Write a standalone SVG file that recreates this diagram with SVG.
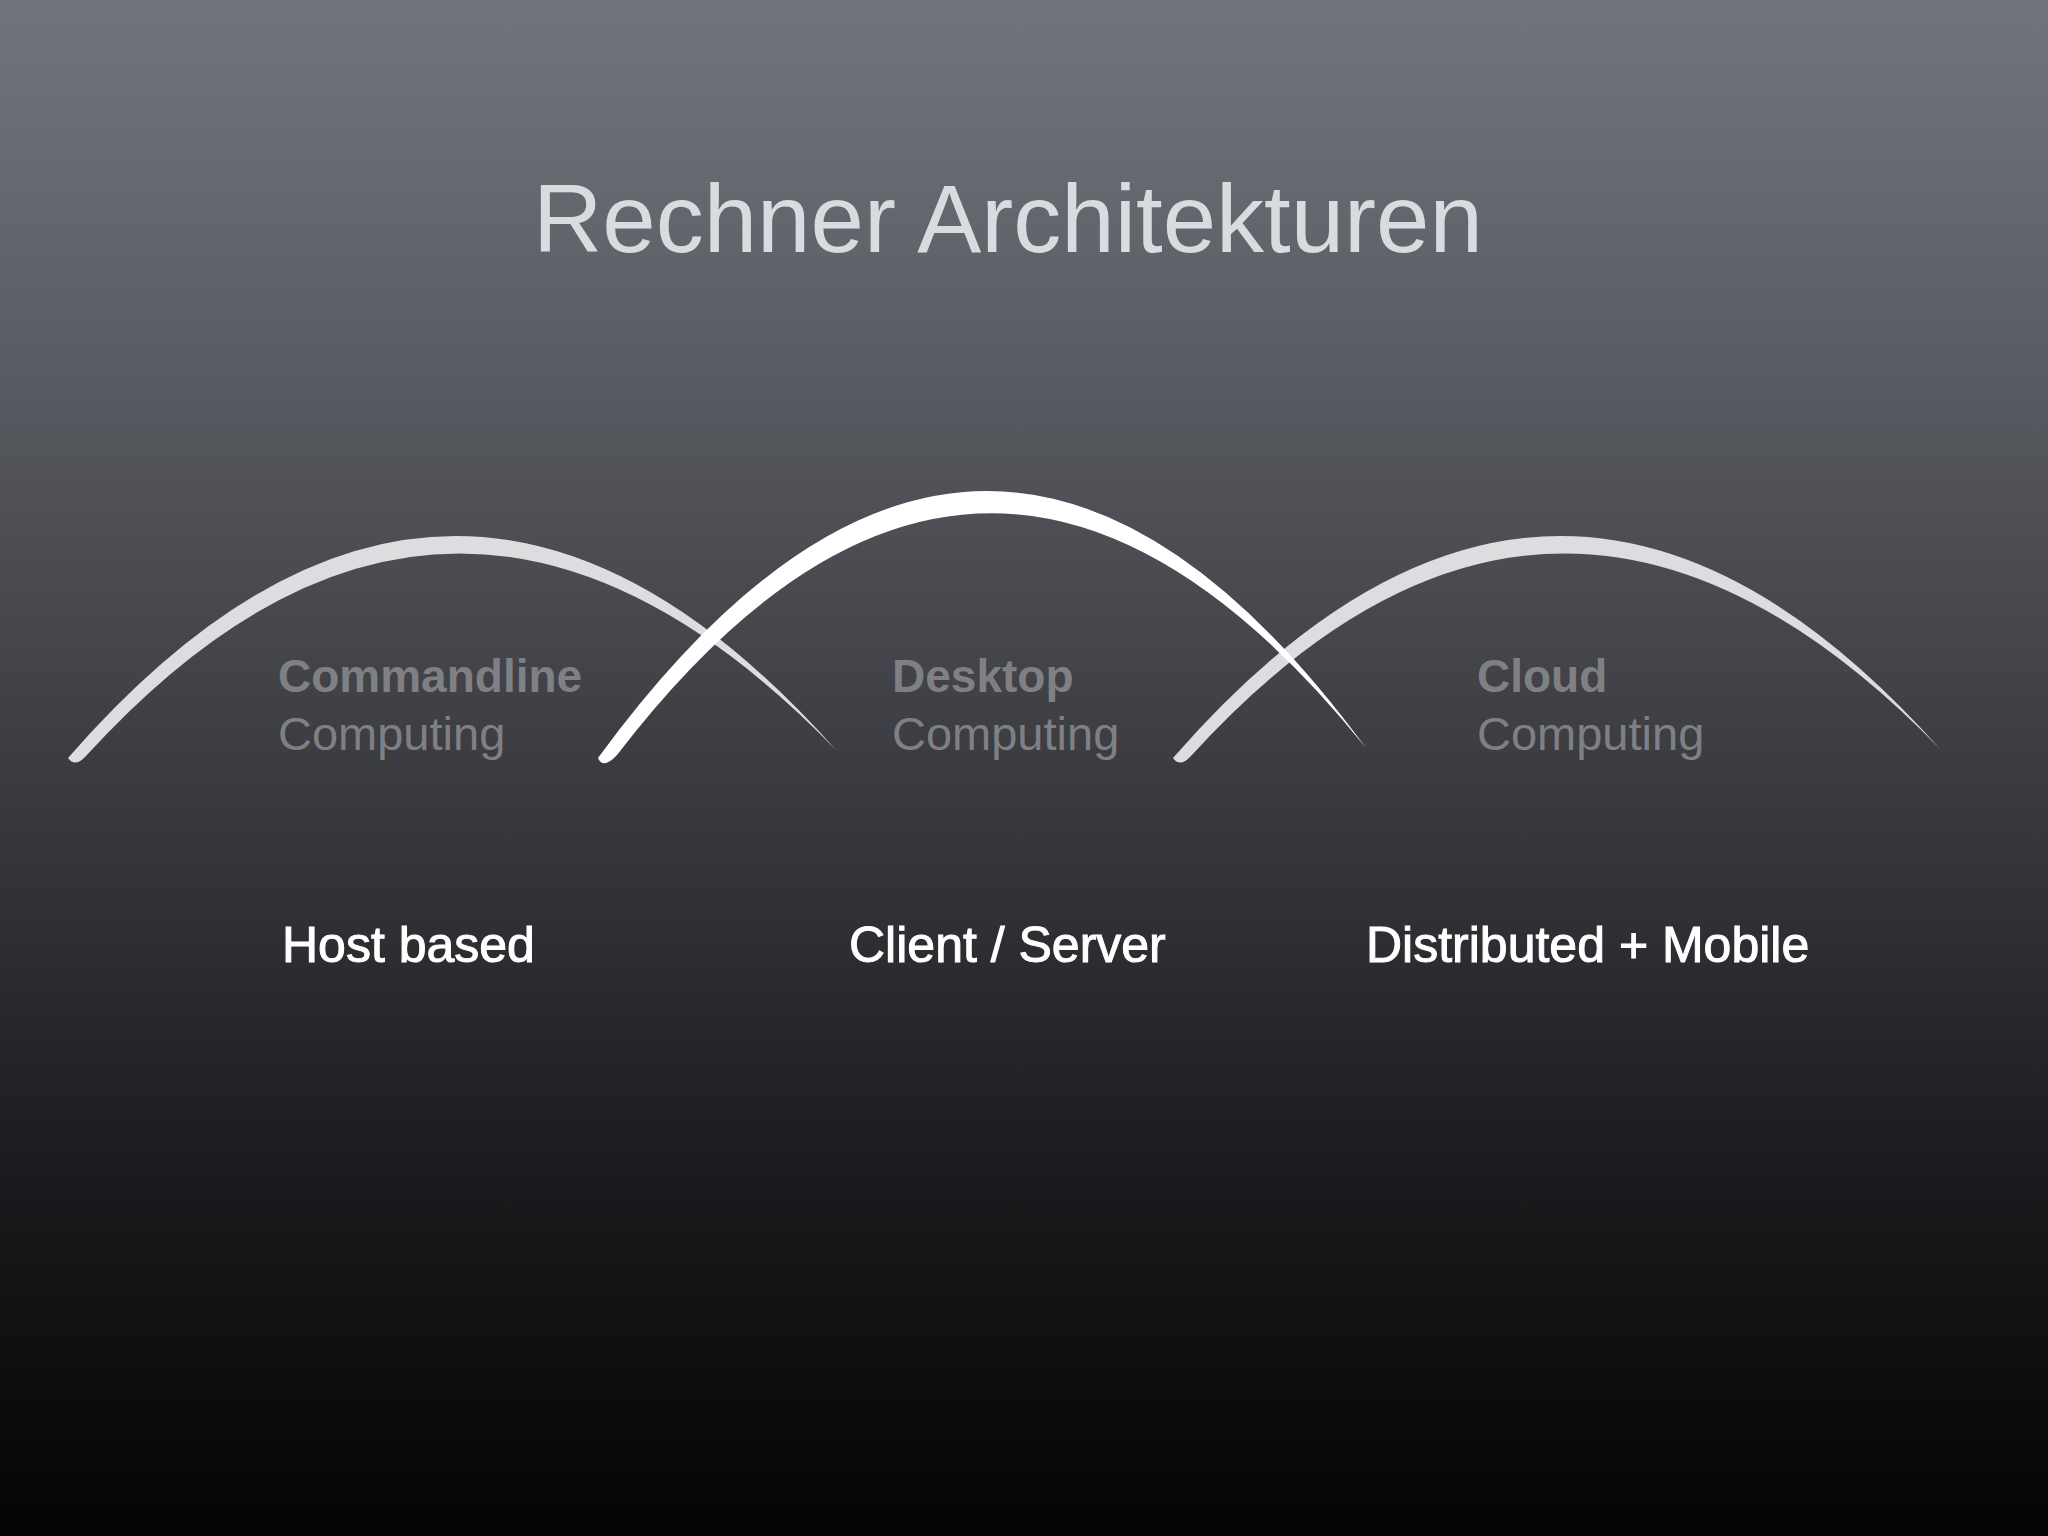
<svg xmlns="http://www.w3.org/2000/svg" width="2048" height="1536" viewBox="0 0 2048 1536">
<defs>
<linearGradient id="bg" x1="0" y1="0" x2="0" y2="1">
<stop offset="0" stop-color="#71757b"/>
<stop offset="0.2" stop-color="#5d6067"/>
<stop offset="0.4" stop-color="#47484d"/>
<stop offset="0.6" stop-color="#2f2f34"/>
<stop offset="0.8" stop-color="#17171a"/>
<stop offset="1" stop-color="#040406"/>
</linearGradient>
<path id="sideArc" d="M 68,758 Q 452,318 836,750 Q 452,354 86,756 Q 75,768 68,758 Z"/>
<style>
.title{font-family:"Liberation Sans",Arial,sans-serif;font-size:96px;fill:#d9dbde}
.head{font-family:"Liberation Sans",Arial,sans-serif;font-size:46px;font-weight:bold;fill:#7f8084}
.sub{font-family:"Liberation Sans",Arial,sans-serif;font-size:47px;fill:#7f8084}
.era{font-family:"Liberation Sans",Arial,sans-serif;font-size:50px;fill:#ffffff;stroke:#ffffff;stroke-width:1}
.greyArc{fill:#dcdddf}
.whiteArc{fill:#ffffff}
</style>
</defs>
<rect x="0" y="0" width="2048" height="1536" fill="url(#bg)"/>
<text class="title" x="533" y="252">Rechner Architekturen</text>
<g id="connectors">
<use id="arc-commandline" href="#sideArc" class="greyArc"/>
<use id="arc-cloud" href="#sideArc" class="greyArc" transform="translate(1105,0)"/>
<path id="arc-desktop" class="whiteArc" d="M 598,758 Q 985,229 1366,748 Q 985,275 617,755 Q 603,770 598,758 Z"/>
</g>
<g id="node-commandline">
<text class="head" x="278" y="692">Commandline</text>
<text class="sub" x="278" y="750">Computing</text>
<text class="era" x="282" y="962">Host based</text>
</g>
<g id="node-desktop">
<text class="head" x="892" y="692">Desktop</text>
<text class="sub" x="892" y="750">Computing</text>
<text class="era" x="849" y="962">Client / Server</text>
</g>
<g id="node-cloud">
<text class="head" x="1477" y="692">Cloud</text>
<text class="sub" x="1477" y="750">Computing</text>
<text class="era" x="1366" y="962">Distributed + Mobile</text>
</g>
</svg>
